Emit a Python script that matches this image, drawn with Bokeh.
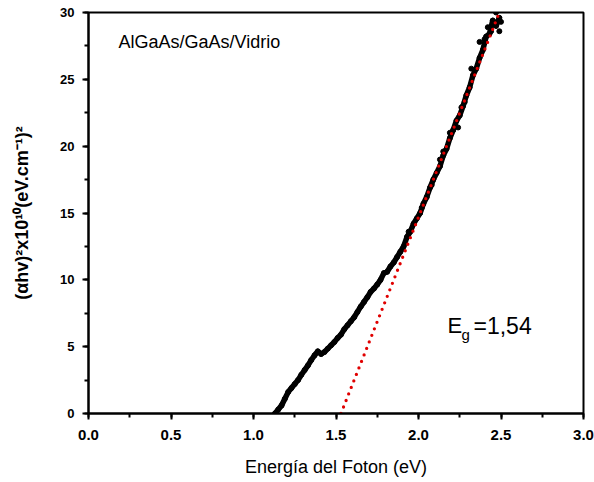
from bokeh.plotting import figure
from bokeh.models import Range1d, SingleIntervalTicker, NumeralTickFormatter, Label
from bokeh.embed import file_html
from bokeh.resources import INLINE

# Measured data (photon energy, (alpha h nu)^2 x 1e10)
energy = [1.13, 1.15, 1.17, 1.19, 1.21, 1.23, 1.25, 1.27, 1.29, 1.31, 1.33, 1.35,
          1.37, 1.39, 1.41, 1.43, 1.45, 1.47, 1.49, 1.51, 1.53, 1.55, 1.57, 1.59,
          1.61, 1.63, 1.65, 1.67, 1.69, 1.71, 1.73, 1.75, 1.77, 1.79, 1.81, 1.83,
          1.85, 1.87, 1.89, 1.91, 1.93, 1.95, 1.97, 1.99, 2.01, 2.03, 2.05, 2.07,
          2.09, 2.11, 2.13, 2.15, 2.17, 2.19, 2.21, 2.23, 2.25, 2.27, 2.29, 2.31,
          2.33, 2.35, 2.37, 2.39, 2.41, 2.43, 2.45, 2.47, 2.49]
alpha2 = [0.0, 0.3, 0.6, 1.1, 1.6, 1.9, 2.2, 2.5, 2.9, 3.25, 3.6, 4.0,
          4.35, 4.65, 4.45, 4.6, 4.85, 5.1, 5.35, 5.65, 5.9, 6.3, 6.6, 6.9,
          7.2, 7.6, 8.0, 8.35, 8.7, 9.1, 9.35, 9.65, 10.0, 10.5, 10.6, 11.0,
          11.3, 11.7, 12.1, 12.5, 13.2, 13.6, 14.2, 14.6, 15.0, 15.7, 16.2, 16.9,
          17.5, 18.0, 18.5, 19.3, 19.8, 20.6, 21.2, 21.9, 22.3, 23.0, 23.8, 24.4,
          25.3, 25.8, 26.6, 27.2, 28.2, 28.4, 29.4, 29.0, 29.6]
scatter_e = [1.94, 2.02, 2.08, 2.13, 2.15, 2.19, 2.24, 2.26, 2.28, 2.32, 2.37,
             2.40, 2.42, 2.44, 2.47, 2.49, 2.50]
scatter_a = [13.6, 15.4, 17.1, 19.0, 19.6, 21.0, 21.4, 22.9, 23.3, 25.8, 27.8,
             28.0, 28.9, 28.6, 30.0, 28.6, 29.3]

# Linear fit (Tauc extrapolation)
fit_e0 = 1.53
fit_slope = 31.25
fit_e = [fit_e0, 2.52]
fit_a = [fit_slope * (e - fit_e0) for e in fit_e]

x_ticks_interval = 0.5
y_ticks_interval = 5
x_lo, x_hi, y_lo, y_hi = 0, 3, 0, 30

W, H = 594, 482
BL, BR, BT, BB = 88, 11, 12, 69
p = figure(width=W, height=H, output_backend="svg", toolbar_location=None,
           x_range=Range1d(x_lo, x_hi), y_range=Range1d(y_lo, y_hi),
           min_border_left=BL, min_border_right=BR, min_border_top=BT, min_border_bottom=BB)
p.background_fill_color = "white"
p.border_fill_color = "white"
p.outline_line_color = "black"
p.outline_line_width = 2
p.grid.visible = False

# pixel -> data helpers for annotation placement
fw, fh = W - BL - BR, H - BT - BB
px_x = (x_hi - x_lo) / fw
px_y = (y_hi - y_lo) / fh
def dx(px):
    return x_lo + (px - BL) * px_x
def dy(py):
    return y_lo + (H - BB - py) * px_y

# data
p.line(energy, alpha2, line_color="black", line_width=5.5, line_join="round", line_cap="round")
p.scatter(energy, alpha2, size=5, color="black")
p.scatter(scatter_e, scatter_a, size=5, color="black")
# fit line (red dots)
p.line(fit_e, fit_a, line_color="#e00000", line_width=3.3, line_dash="0 7",
       line_cap="round")

p.xaxis.ticker = SingleIntervalTicker(interval=x_ticks_interval, num_minor_ticks=2)
p.yaxis.ticker = SingleIntervalTicker(interval=y_ticks_interval, num_minor_ticks=2)
p.xaxis.formatter = NumeralTickFormatter(format="0.0")

for ax in (p.xaxis, p.yaxis):
    ax.axis_line_width = 2
    ax.axis_line_color = "black"
    ax.major_tick_line_width = 2
    ax.minor_tick_line_width = 2
    ax.major_tick_in = 0
    ax.major_tick_out = 6
    ax.minor_tick_in = 0
    ax.minor_tick_out = 4
    ax.major_label_text_font = "Liberation Sans"
    ax.major_label_text_font_style = "bold"
    ax.major_label_text_color = "black"
    ax.axis_label_text_font = "Liberation Sans"
    ax.axis_label_text_color = "black"

p.xaxis.major_label_text_font_size = "15px"
p.yaxis.major_label_text_font_size = "13px"
p.xaxis.major_label_standoff = 10
p.yaxis.major_label_standoff = 8

p.xaxis.axis_label = "Energía del Foton (eV)"
p.xaxis.axis_label_text_font_size = "18px"
p.xaxis.axis_label_text_font_style = "normal"
p.xaxis.axis_label_standoff = 14

p.yaxis.axis_label = "(αhv)²x10¹⁰(eV.cm⁻¹)²"
p.yaxis.axis_label_text_font_size = "18px"
p.yaxis.axis_label_text_font_style = "bold"
p.yaxis.axis_label_standoff = 25

p.add_layout(Label(x=dx(118), y=dy(41), text="AlGaAs/GaAs/Vidrio", text_font="Liberation Sans",
                   text_font_size="18px", text_color="black", text_baseline="alphabetic"))
p.add_layout(Label(x=dx(447), y=dy(325), text="E", text_font="Liberation Sans",
                   text_font_size="22px", text_color="black", text_baseline="alphabetic"))
p.add_layout(Label(x=dx(461), y=dy(334), text="g", text_font="Liberation Sans",
                   text_font_size="15px", text_color="black", text_baseline="alphabetic"))
p.add_layout(Label(x=dx(473), y=dy(325), text="=1,54", text_font="Liberation Sans",
                   text_font_size="23px", text_color="black", text_baseline="alphabetic"))

open("out.html", "w").write(file_html(p, INLINE))
